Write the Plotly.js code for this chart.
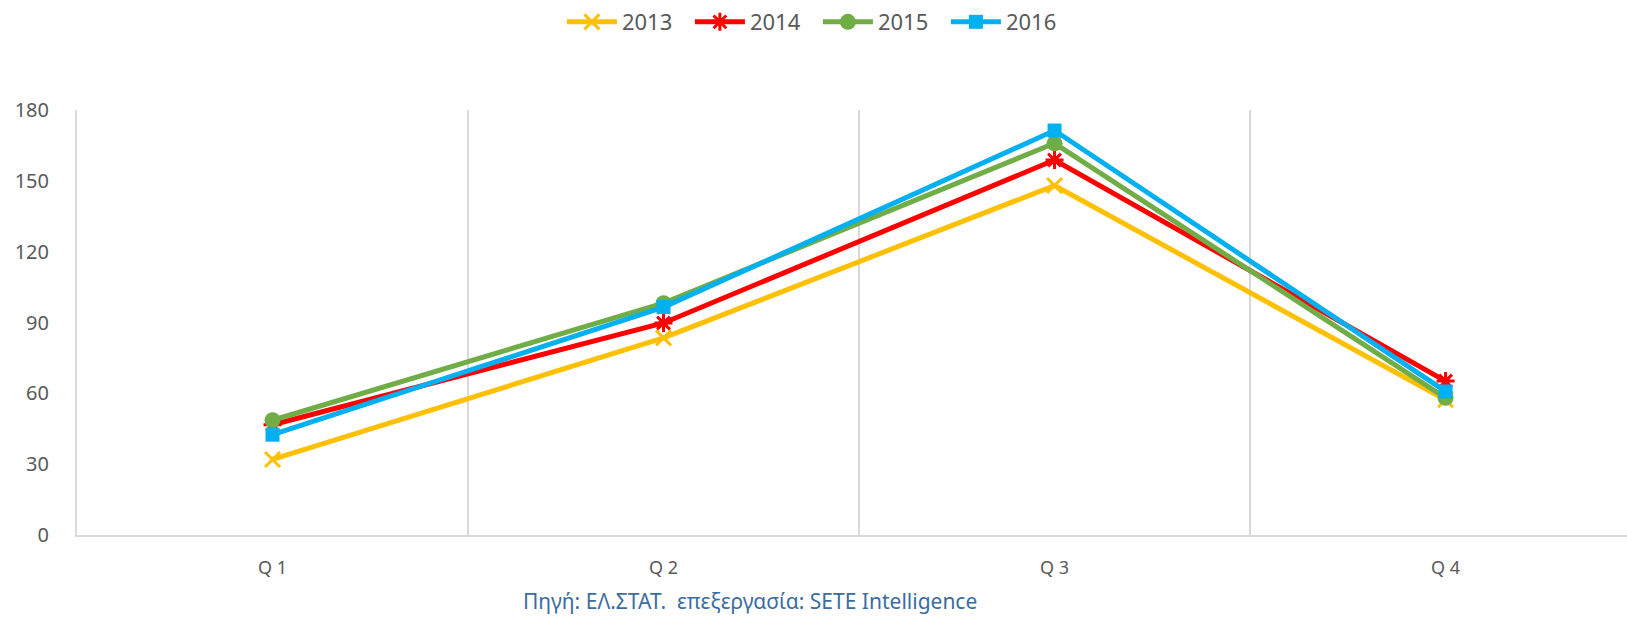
<!DOCTYPE html>
<html>
<head>
<meta charset="utf-8">
<script src="https://cdn.plot.ly/plotly-3.0.1.min.js"></script>
<style>html,body{margin:0;padding:0;background:#fff;}#chart{width:1627px;height:617px;}</style>
</head>
<body>
<div id="chart"></div>
<script>
const categories = ["Q 1", "Q 2", "Q 3", "Q 4"];
const seriesNames = ["2013", "2014", "2015", "2016"];
const values2013 = [32, 83.5, 148, 57.3];
const values2014 = [46.7, 89.8, 158.8, 65.2];
const values2015 = [48.6, 98.2, 165.9, 58.1];
const values2016 = [42.5, 96.5, 171.3, 60.8];
const yTicks = [0, 30, 60, 90, 120, 150, 180];
const sourceText = "Πηγή: ΕΛ.ΣΤΑΤ.  επεξεργασία: SETE Intelligence";

const font = "Noto Sans, Open Sans, sans-serif";
const styles = [
  {color: "#FFC000", symbol: "x-thin-open", size: 15, lw: 3},
  {color: "#FF0000", symbol: "asterisk-open", size: 15, lw: 3},
  {color: "#70AD47", symbol: "circle", size: 16, lw: 0},
  {color: "#00B0F0", symbol: "square", size: 14, lw: 0}
];
const allValues = [values2013, values2014, values2015, values2016];

const traces = allValues.map((vals, i) => ({
  type: "scatter",
  mode: "lines+markers",
  name: seriesNames[i],
  x: categories,
  y: vals,
  line: {color: styles[i].color, width: 5},
  marker: {
    symbol: styles[i].symbol,
    size: styles[i].size,
    color: styles[i].color,
    line: {color: styles[i].color, width: styles[i].lw}
  },
  cliponaxis: false
}));

const layout = {
  width: 1627,
  height: 617,
  paper_bgcolor: "#ffffff",
  plot_bgcolor: "#ffffff",
  margin: {l: 77, r: 0, t: 110, b: 82},
  font: {family: font, color: "#595959"},
  showlegend: true,
  legend: {
    orientation: "h",
    x: 0.478, xanchor: "center",
    y: 1.207, yanchor: "middle",
    font: {size: 22, color: "#595959", family: font},
    itemwidth: 50,
    entrywidth: 63,
    entrywidthmode: "pixels",
    traceorder: "normal"
  },
  xaxis: {
    type: "category",
    range: [-0.5, 3.464],
    tickson: "boundaries",
    showgrid: true,
    gridcolor: "#D9D9D9",
    gridwidth: 2,
    showline: true,
    linecolor: "#D9D9D9",
    linewidth: 2,
    ticks: "",
    ticklabelstandoff: 15,
    tickfont: {size: 18, color: "#595959", family: font},
    zeroline: false,
    fixedrange: true
  },
  yaxis: {
    range: [0, 180],
    tickvals: yTicks,
    ticktext: yTicks.map(String),
    showgrid: false,
    showline: true,
    linecolor: "#D9D9D9",
    linewidth: 2,
    ticks: "",
    ticklabelstandoff: 22,
    tickfont: {size: 20, color: "#595959", family: font},
    zeroline: false,
    fixedrange: true
  },
  annotations: [{
    text: sourceText,
    xref: "paper", yref: "paper",
    x: 0.434, y: -0.156,
    xanchor: "center", yanchor: "middle",
    showarrow: false,
    font: {size: 21, color: "#3A6DA0", family: font}
  }]
};

Plotly.newPlot("chart", traces, layout, {displayModeBar: false, staticPlot: true});
</script>
</body>
</html>
